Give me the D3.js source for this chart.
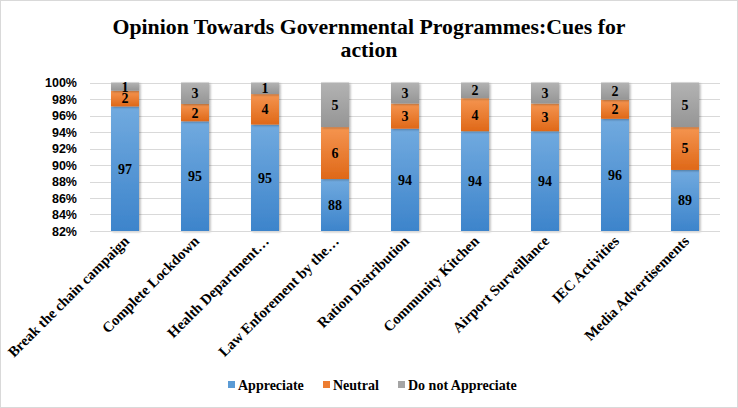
<!DOCTYPE html>
<html><head><meta charset="utf-8">
<script src="https://cdn.jsdelivr.net/npm/d3@7"></script>
<style>
html,body{margin:0;padding:0;background:#fff;}
svg{display:block;}
</style></head>
<body>
<script>
const categories = ["Break the chain campaign","Complete Lockdown","Health Department…","Law Enforement by the…","Ration Distribution","Community Kitchen","Airport Surveillance","IEC Activities","Media Advertisements"];
const appreciate = [97.1, 95.3, 94.9, 88.3, 94.4, 94.1, 94.1, 95.6, 89.4];
const neutral    = [1.9, 2.1, 3.7, 6.3, 3.05, 4.0, 3.35, 2.3, 5.2];
const notAppreciate = [1.0, 2.6, 1.4, 5.4, 2.55, 1.9, 2.55, 2.1, 5.4];
const seriesNames = ["Appreciate","Neutral","Do not Appreciate"];
const yTicks = [82,84,86,88,90,92,94,96,98,100];
const title = ["Opinion Towards Governmental Programmes:Cues for","action"];

const W = 738, H = 408;
const SERIF = "'Liberation Serif','Times New Roman',serif";
const svg = d3.select("body").append("svg").attr("width", W).attr("height", H);
svg.append("rect").attr("x",0.5).attr("y",0.5).attr("width",W-1).attr("height",H-1)
  .attr("fill","#fff").attr("stroke","#d9d9d9");

const defs = svg.append("defs");
const grads = [["#71aadf","#3d84cb"],["#f59550","#df6818"],["#b3b3b3","#959595"]];
grads.forEach((g,i)=>{
  const lg = defs.append("linearGradient").attr("id","g"+i).attr("x1",0).attr("y1",0).attr("x2",0).attr("y2",1);
  lg.append("stop").attr("offset","0%").attr("stop-color",g[0]);
  lg.append("stop").attr("offset","100%").attr("stop-color",g[1]);
});
const f = defs.append("filter").attr("id","sh").attr("x","-20%").attr("y","-5%").attr("width","150%").attr("height","115%");
f.append("feDropShadow").attr("dx",1.5).attr("dy",1).attr("stdDeviation",1).attr("flood-color","#000").attr("flood-opacity",0.3);

const m = {left:90, right:18};
const x = d3.scaleBand().domain(categories).range([m.left, W-m.right]).paddingInner(0.6).paddingOuter(0.3);
const y = d3.scaleLinear().domain([82,100]).range([231, 82.5]).clamp(true);

// title
svg.append("text").attr("x", W/2).attr("y", 34).attr("text-anchor","middle")
  .style("font-family",SERIF).style("font-weight","bold").style("font-size","21.8px")
  .selectAll("tspan").data(title).join("tspan").attr("x", W/2).attr("dy",(d,i)=>i?23:0).text(d=>d);

// grid
svg.append("g").selectAll("line").data(yTicks).join("line")
  .attr("x1", m.left).attr("x2", W-m.right).attr("y1", d=>Math.round(y(d))+0.5).attr("y2", d=>Math.round(y(d))+0.5)
  .attr("stroke","#d9d9d9").attr("stroke-width",1);

// y axis
const ya = svg.append("g").attr("transform",`translate(${m.left},0)`)
  .call(d3.axisLeft(y).tickValues(yTicks).tickFormat(d=>d+"%").tickSize(0).tickPadding(13));
ya.select(".domain").remove();
ya.selectAll("text").style("font-family","'Liberation Sans',Arial,sans-serif").style("font-weight","bold").style("font-size","12.5px").attr("fill","#000");

// stacks
const rows = categories.map((c,i)=>({cat:c, Appreciate:appreciate[i], Neutral:neutral[i], "Do not Appreciate":notAppreciate[i]}));
const stack = d3.stack().keys(seriesNames)(rows);
const gBars = svg.append("g");
stack.forEach((s,si)=>{
  gBars.append("g").attr("filter","url(#sh)").selectAll("rect").data(s).join("rect")
    .attr("x", d=>x(d.data.cat)).attr("width", x.bandwidth())
    .attr("y", d=>y(d[1])).attr("height", d=>y(d[0])-y(d[1]))
    .attr("fill",`url(#g${si})`);
});
stack.forEach((s,si)=>{
  gBars.append("g").selectAll("text").data(s).join("text")
    .attr("x", d=>x(d.data.cat)+x.bandwidth()/2)
    .attr("y", d=>(y(d[0])+y(d[1]))/2)
    .attr("dy","0.35em").attr("text-anchor","middle")
    .style("font-family",SERIF).style("font-weight","bold").style("font-size","14px")
    .text(d=>Math.round(d[1]-d[0]));
});

// x axis
const xa = svg.append("g").attr("transform",`translate(0,${y(82)})`)
  .call(d3.axisBottom(x).tickSize(0).tickPadding(0));
xa.select(".domain").attr("stroke","#d9d9d9").attr("d",`M${m.left},0.5H${W-m.right}`);
xa.selectAll("text").attr("text-anchor","end").attr("dy",null).attr("y",0)
  .attr("transform","translate(5,11) rotate(-45)")
  .style("font-family",SERIF).style("font-weight","bold").style("font-size","14.7px").attr("fill","#000");

// legend
const legendX = [228, 323, 398];
const lg = svg.append("g");
seriesNames.forEach((n,i)=>{
  lg.append("rect").attr("x",legendX[i]).attr("y",381).attr("width",7).attr("height",7).attr("fill",["#5b9bd5","#ed7d31","#a5a5a5"][i]);
  lg.append("text").attr("x",legendX[i]+10).attr("y",389.5)
    .style("font-family",SERIF).style("font-weight","bold").style("font-size","14px")
    .text(n);
});
</script>
</body></html>
